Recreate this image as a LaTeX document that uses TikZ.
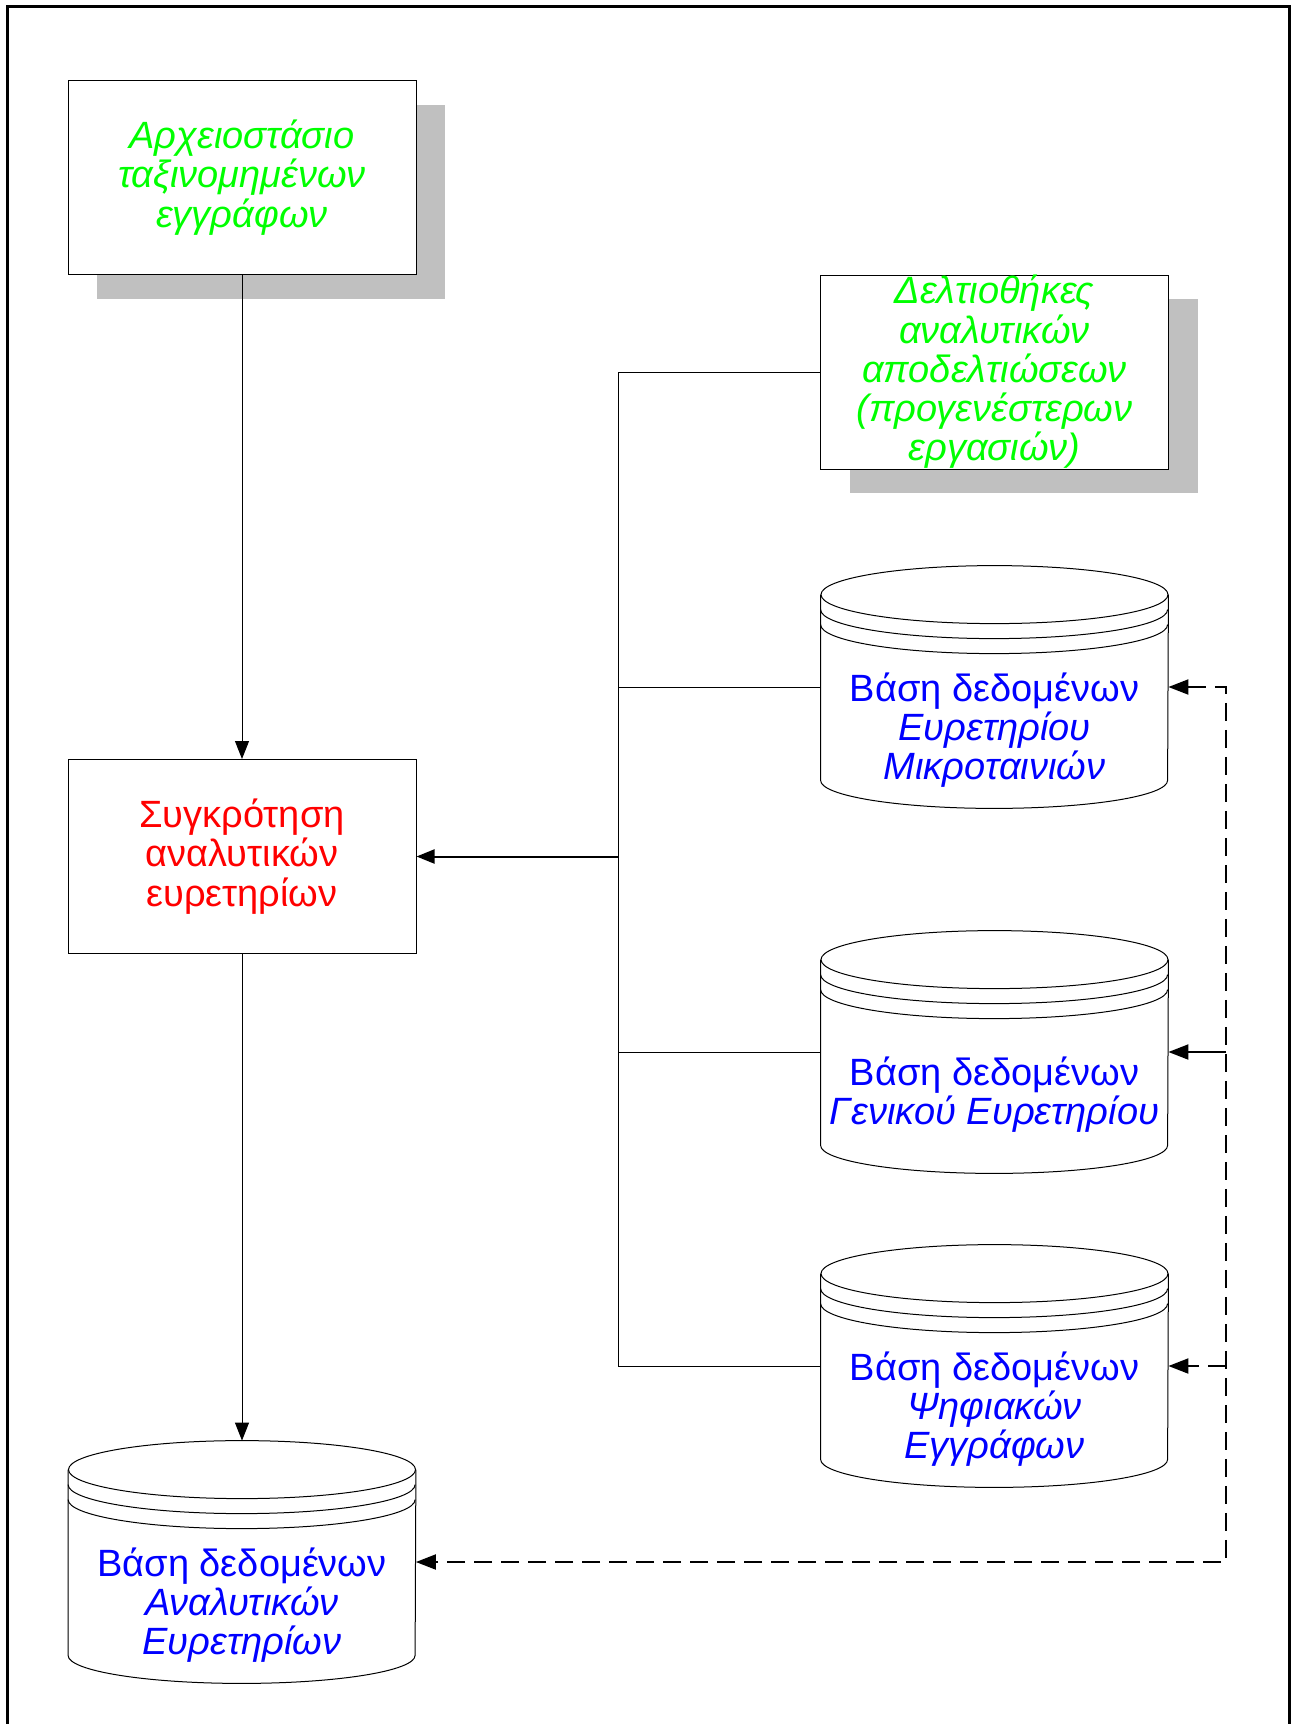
\documentclass[tikz,border=0pt]{standalone}
\usepackage{fontspec}
\setmainfont{Liberation Sans}
\usepackage{tikz}
\usetikzlibrary{positioning, shapes.geometric, arrows.meta, shadows}
\usepackage{xcolor}
\definecolor{shadowgray}{RGB}{192,192,192}

\newcommand{\greekfont}{\fontsize{19}{19.6}\selectfont}

% outline of a database drum around a named node
\newcommand{\drum}[1]{%
  \draw[line width=0.5pt] ([yshift=-14.5pt]#1.north west) -- ([yshift=14pt]#1.south west)
    arc[start angle=180, end angle=360, x radius=86.75pt, y radius=14pt]
    -- ([yshift=-14.5pt]#1.north east);
  \draw[line width=0.5pt] ([yshift=-14.5pt]#1.north) ellipse [x radius=86.75pt, y radius=14.5pt];
  \draw[line width=0.5pt] ([yshift=-22pt]#1.north west) arc[start angle=180, end angle=360, x radius=86.75pt, y radius=14.5pt];
  \draw[line width=0.5pt] ([yshift=-29.5pt]#1.north west) arc[start angle=180, end angle=360, x radius=86.75pt, y radius=14.5pt];
}

\tikzset{
  procbox/.style={draw, line width=0.5pt, minimum width=174pt, minimum height=97pt,
    inner sep=0pt, align=center},
  shadowed/.style={fill=white, general shadow={fill=shadowgray, shadow xshift=14.5pt, shadow yshift=-12pt}},
  greentext/.style={text=green, font=\greekfont\itshape},
  redtext/.style={text=red, font=\greekfont},
  dbnode/.style={minimum width=173.5pt, minimum height=121pt, inner sep=0pt},
  dbtext/.style={align=center, text=blue, font=\greekfont, yshift=-21.5pt, inner sep=0pt},
  tip/.style={-{Triangle[length=9pt,width=7pt]}},
  bigtip/.style={-{Triangle[length=10pt,width=7.5pt]}},
  retline/.style={line width=1pt, dash pattern=on 9pt off 4.5pt},
}

\begin{document}
\begin{tikzpicture}[x=0.5pt, y=0.5pt]
  \useasboundingbox (0,0) rectangle (1291,-1724);
  \draw[line width=1.5pt] (7,-1724) -- (7,-6) -- (1289,-6) -- (1289,-1724);

  % boxes
  \node[procbox, shadowed, greentext] (arch) at (242,-177.5) {Αρχειοστάσιο\\ταξινομημένων\\εγγράφων};
  \node[procbox, shadowed, greentext] (delt) at (994.5,-372) {Δελτιοθήκες\\αναλυτικών\\αποδελτιώσεων\\(προγενέστερων\\εργασιών)};
  \node[procbox, redtext] (synk) at (242,-856.5) {Συγκρότηση\\αναλυτικών\\ευρετηρίων};

  % databases
  \node[dbnode, label={[dbtext]center:{Βάση δεδομένων\\\textit{Ευρετηρίου}\\\textit{Μικροταινιών}}}] (mikro) at (994.5,-687) {};
  \node[dbnode, label={[dbtext]center:{Βάση δεδομένων\\\textit{Γενικού Ευρετηρίου}}}] (genik) at (994.5,-1052) {};
  \node[dbnode, label={[dbtext]center:{Βάση δεδομένων\\\textit{Ψηφιακών}\\\textit{Εγγράφων}}}] (psif) at (994.5,-1366) {};
  \node[dbnode, label={[dbtext]center:{Βάση δεδομένων\\\textit{Αναλυτικών}\\\textit{Ευρετηρίων}}}] (analyt) at (242,-1562) {};
  \drum{mikro}
  \drum{genik}
  \drum{psif}
  \drum{analyt}

  % main flow
  \draw[tip, line width=0.5pt] (arch) -- (synk);
  \draw[tip, line width=0.5pt] (synk) -- (analyt);

  % sources into the bus
  \coordinate (bus) at (618,-856.5);
  \draw[line width=0.5pt] (delt.west) -| (bus |- psif.west) -- (psif.west);
  \draw[line width=0.5pt] (mikro.west) -- (mikro.west -| bus);
  \draw[line width=0.5pt] (genik.west) -- (genik.west -| bus);
  \draw[tip, line width=1pt] (bus) -- (synk.east);

  % feedback
  \coordinate (ret) at (1226,-1562);
  \draw[retline, {Triangle[length=10pt,width=7.5pt]}-{Triangle[length=10pt,width=7.5pt]}] (mikro.east) -| (ret) -- (analyt.east);
  \draw[retline, bigtip] (psif.east -| ret) -- (psif.east);
  \draw[bigtip, line width=1pt] (genik.east -| ret) -- (genik.east);
\end{tikzpicture}
\end{document}
